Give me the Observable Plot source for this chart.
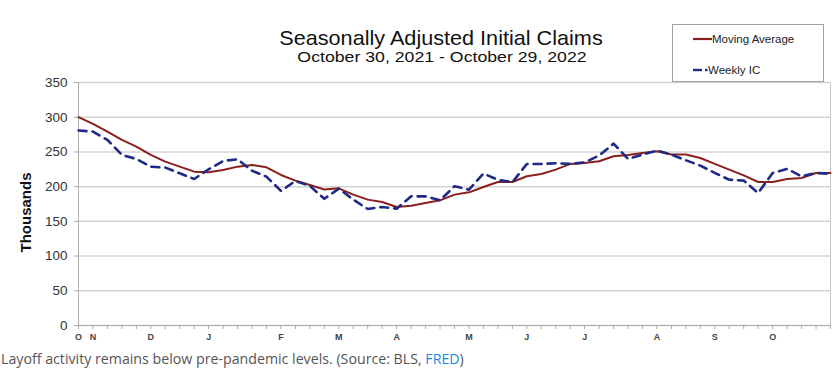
<!DOCTYPE html>
<html>
<head>
<meta charset="utf-8">
<script src="https://cdn.jsdelivr.net/npm/d3@7"></script>
<script src="https://cdn.jsdelivr.net/npm/@observablehq/plot@0.6"></script>
<style>
  body { margin: 0; background: #fff; }
  #wrap { position: relative; width: 839px; height: 371px; overflow: hidden; font-family: "Liberation Sans", Arial, sans-serif; }
  #title { position: absolute; left: 0; width: 882px; top: 26px; text-align: center; font-size: 21px; line-height: 24px; color: #111; transform: scaleX(1.03); transform-origin: 441px 0; }
  #subtitle { position: absolute; left: 0; width: 884px; top: 48px; text-align: center; font-size: 15px; line-height: 17px; color: #111; transform: scaleX(1.18); transform-origin: 442px 0; }
  #legend { position: absolute; left: 672px; top: 24px; width: 150px; height: 56px; border: 1px solid #a0a0a0; background: #fff; font-size: 11.5px; color: #222; }
  .item { position: absolute; left: 20px; display: flex; align-items: center; line-height: 12px; }
  #caption { position: absolute; left: 1px; top: 349px; font-family: "Open Sans", sans-serif; font-size: 14.2px; color: #555; white-space: nowrap; }
  #caption a { color: #1a88e6; text-decoration: none; }
  #chart { position: absolute; left: 0; top: 0; }
</style>
</head>
<body>
<div id="wrap">
  <div id="chart"></div>
  <div id="title">Seasonally Adjusted Initial Claims</div>
  <div id="subtitle">October 30, 2021 - October 29, 2022</div>
  <div id="legend"></div>
  <div id="caption">Layoff activity remains below pre-pandemic levels. (Source: BLS, <a>FRED</a>)</div>
</div>
<script>
// Week index 0 = week ending Oct 30, 2021 ... 52 = week ending Oct 29, 2022
const movingAverage = [300, 290.4, 279.3, 267.3, 257.7, 245.7, 236, 228.8, 221.6, 220.7,
  224, 228.8, 231.3, 227.9, 216.8, 208.7, 202.4, 196, 197.6, 188.5,
  181.3, 177.9, 170.7, 172.6, 176.4, 180.3, 188.5, 191.8, 199.5, 206.7,
  206.7, 214.9, 218.3, 224.5, 232.7, 234, 236.5, 243.8, 245.7, 248.6,
  251, 246.2, 246.2, 241.3, 232.7, 224.5, 216.3, 206.7, 206.7, 211,
  212.5, 219.7, 219.7];
const weeklyIC = [280.8, 279.3, 267.3, 245.7, 239.9, 228.8, 227.4, 219.2, 211, 225,
  237, 239.4, 223, 214.4, 193.8, 208.2, 201, 182.5, 197.1, 181.3,
  167.8, 170.7, 168.3, 186, 186, 180.3, 200.5, 195.7, 218.8, 210,
  206.3, 232.7, 232.7, 233.7, 232.7, 235, 244.7, 262, 239.9, 246.2,
  251.9, 246.2, 238, 230.3, 219.7, 210, 208.7, 190.9, 219.7, 225.5,
  214.9, 219.7, 218.3];
const monthLabels = ["O", "N", "D", "J", "F", "M", "A", "M", "J", "J", "A", "S", "O"];
const monthWeeks = [0, 1, 5, 9, 14, 18, 22, 27, 31, 35, 40, 44, 48];
const yTicks = [0, 50, 100, 150, 200, 250, 300, 350];
const seriesNames = ["Moving Average", "Weekly IC"];
const seriesColors = ["#8b1e1e", "#1f2a86"];

const weeks = movingAverage.map((_, i) => i);
const rows = weeks.map(i => ({week: i, ma: movingAverage[i], ic: weeklyIC[i]}));
const labelOf = new Map(monthWeeks.map((w, i) => [w, monthLabels[i]]));

const chart = Plot.plot({
  width: 839,
  height: 350,
  marginTop: 82,
  marginBottom: 25,
  marginLeft: 78,
  marginRight: 9,
  style: {fontFamily: "Liberation Sans, Arial, sans-serif", background: "transparent", overflow: "visible"},
  x: {domain: [0, 52], axis: null},
  y: {domain: [0, 350], axis: null},
  marks: [
    Plot.ruleY(yTicks, {stroke: "#d4d4d4", strokeWidth: 1.5}),
    Plot.ruleX([0], {stroke: "#b0b0b0", strokeWidth: 1}),
    Plot.ruleX([52], {stroke: "#c8c8c8", strokeWidth: 1}),
    Plot.ruleY([0], {stroke: "#b0b0b0", strokeWidth: 1}),
    Plot.axisY({ticks: yTicks, tickSize: 4, tickPadding: 7, stroke: "#aaa", fill: "#333", fontSize: 13.5, label: null}),
    Plot.axisX({ticks: weeks, tickSize: 4, stroke: "#aaa", tickFormat: () => "", label: null}),
    Plot.axisX({ticks: monthWeeks, tickSize: 0, tickPadding: 8, tickFormat: d => labelOf.get(d), fill: "#444", fontSize: 9, fontWeight: "bold", label: null}),
    Plot.text(["Thousands"], {x: () => 0, y: () => 162.8, dx: -52, rotate: -90, textAnchor: "middle", lineAnchor: "middle", fontSize: 15, fontWeight: "bold", fill: "#111"}),
    Plot.line(rows, {x: "week", y: "ma", stroke: seriesColors[0], strokeWidth: 2}),
    Plot.line(rows, {x: "week", y: "ic", stroke: seriesColors[1], strokeWidth: 2.6, strokeDasharray: "8,6"})
  ]
});
document.getElementById("chart").appendChild(chart);

const legend = document.getElementById("legend");
seriesNames.forEach((name, i) => {
  const div = document.createElement("div");
  div.className = "item";
  div.style.top = (i === 0 ? 8 : 39) + "px";
  const sample = i === 0
    ? `<line x1="0" x2="19" y1="5" y2="5" stroke="${seriesColors[i]}" stroke-width="2.2"/>`
    : `<line x1="0" x2="9" y1="5" y2="5" stroke="${seriesColors[i]}" stroke-width="2.4"/><line x1="12" x2="14.5" y1="5" y2="5" stroke="${seriesColors[i]}" stroke-width="2.4"/>`;
  div.innerHTML = `<svg width="${i === 0 ? 19 : 15}" height="10">${sample}</svg><span>${name}</span>`;
  legend.appendChild(div);
});
</script>
</body>
</html>
